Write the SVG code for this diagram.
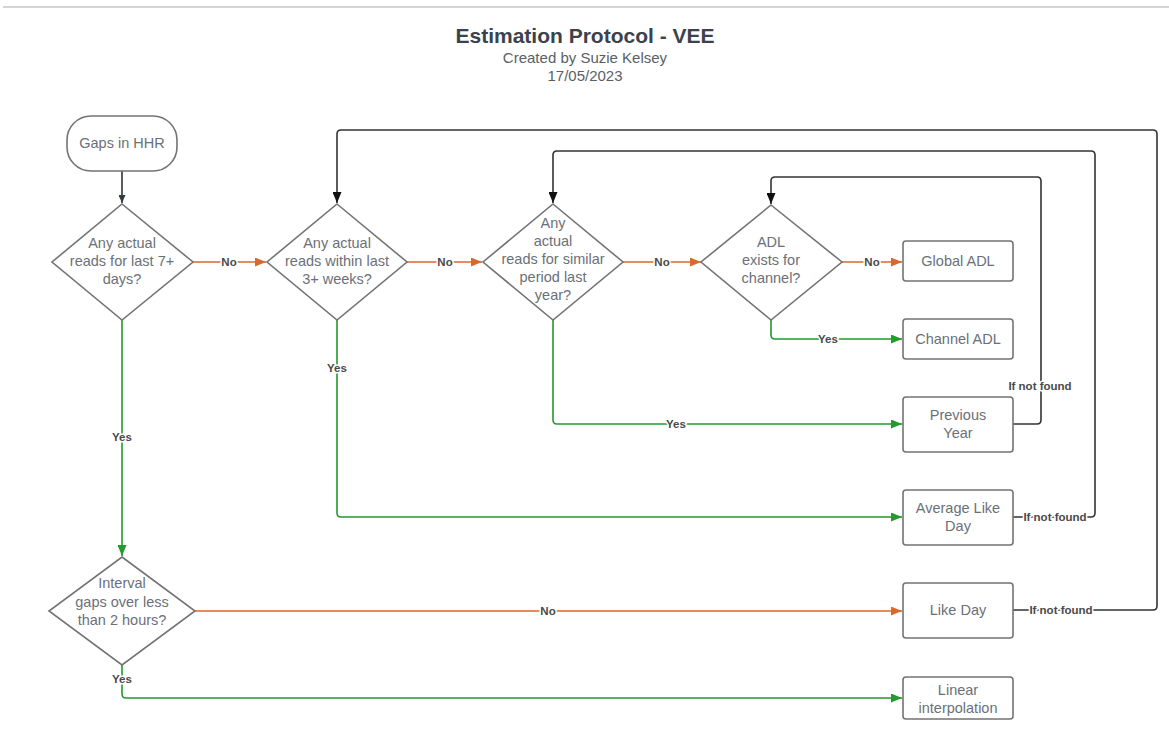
<svg xmlns="http://www.w3.org/2000/svg" width="1169" height="746" viewBox="0 0 1169 746">
<style>
.bg{fill:#ffffff}
.node{fill:#ffffff;stroke:#737373;stroke-width:1.6}
.nt{font-family:"Liberation Sans",Arial,sans-serif;font-size:14.5px;fill:#6b7078;text-anchor:middle}
.title{font-family:"Liberation Sans",Arial,sans-serif;font-size:21px;font-weight:bold;fill:#3c424b;text-anchor:middle}
.sub{font-family:"Liberation Sans",Arial,sans-serif;font-size:15px;fill:#5a5f66;text-anchor:middle}
.c{fill:none;stroke-width:1.6}
.or{stroke:#d8692e}
.gr{stroke:#229a2c}
.bk{stroke:#333333}
.lbl{font-family:"Liberation Sans",Arial,sans-serif;font-size:11.5px;font-weight:bold;fill:#4a4a4a;text-anchor:middle;paint-order:stroke;stroke:#ffffff;stroke-width:3px;stroke-linejoin:round}
</style>
<defs>
<marker id="aO" markerUnits="userSpaceOnUse" markerWidth="11" markerHeight="9" refX="11" refY="4.5" orient="auto"><path d="M0,0 L11,4.5 L0,9 z" fill="#d8692e"/></marker>
<marker id="aG" markerUnits="userSpaceOnUse" markerWidth="11" markerHeight="9" refX="11" refY="4.5" orient="auto"><path d="M0,0 L11,4.5 L0,9 z" fill="#229a2c"/></marker>
<marker id="aB" markerUnits="userSpaceOnUse" markerWidth="11" markerHeight="9" refX="11" refY="4.5" orient="auto"><path d="M0,0 L11,4.5 L0,9 z" fill="#111111"/></marker>
<marker id="aS" markerUnits="userSpaceOnUse" markerWidth="8" markerHeight="7" refX="8" refY="3.5" orient="auto"><path d="M0,0 L8,3.5 L0,7 z" fill="#333a44"/></marker>
</defs>
<rect class="bg" x="0" y="0" width="1169" height="746"/>
<line x1="3" y1="7" x2="1169" y2="7" stroke="#d4d4d4" stroke-width="2"/>

<g id="title">
<text class="title" x="585" y="43">Estimation Protocol - VEE</text>
<text class="sub" x="585" y="63">Created by Suzie Kelsey</text>
<text class="sub" x="585" y="81">17/05/2023</text>
</g>

<g id="connectors">
<path class="c bk" d="M122,171 L122,203" marker-end="url(#aS)"/>
<path class="c or" d="M193,262 L266,262" marker-end="url(#aO)"/>
<path class="c or" d="M407,262 L482,262" marker-end="url(#aO)"/>
<path class="c or" d="M623,262 L701,262" marker-end="url(#aO)"/>
<path class="c or" d="M842,262 L902,262" marker-end="url(#aO)"/>
<path class="c gr" d="M771,320 L771,335 Q771,339 775,339 L902,339" marker-end="url(#aG)"/>
<path class="c gr" d="M553,320 L553,420 Q553,424 557,424 L902,424" marker-end="url(#aG)"/>
<path class="c gr" d="M337,320 L337,513 Q337,517 341,517 L902,517" marker-end="url(#aG)"/>
<path class="c gr" d="M122,320 L122,556" marker-end="url(#aG)"/>
<path class="c or" d="M195,611 L902,611" marker-end="url(#aO)"/>
<path class="c gr" d="M122,665 L122,694 Q122,698 126,698 L902,698" marker-end="url(#aG)"/>
<path class="c bk" d="M1013,424 L1037,424 Q1041,424 1041,420 L1041,181 Q1041,177 1037,177 L775,177 Q771,177 771,181 L771,204" marker-end="url(#aB)"/>
<path class="c bk" d="M1013,517 L1091,517 Q1095,517 1095,513 L1095,155 Q1095,151 1091,151 L557,151 Q553,151 553,155 L553,203" marker-end="url(#aB)"/>
<path class="c bk" d="M1013,610 L1153,610 Q1157,610 1157,606 L1157,134 Q1157,130 1153,130 L341,130 Q337,130 337,134 L337,203" marker-end="url(#aB)"/>
<text class="lbl" x="229" y="266">No</text>
<text class="lbl" x="445" y="266">No</text>
<text class="lbl" x="662" y="266">No</text>
<text class="lbl" x="872" y="266">No</text>
<text class="lbl" x="548" y="615">No</text>
<text class="lbl" x="828" y="343">Yes</text>
<text class="lbl" x="676" y="428">Yes</text>
<text class="lbl" x="337" y="372">Yes</text>
<text class="lbl" x="122" y="441">Yes</text>
<text class="lbl" x="122" y="683">Yes</text>
<text class="lbl" x="1040" y="390">If not found</text>
<text class="lbl" x="1055" y="521">If not found</text>
<text class="lbl" x="1061" y="614">If not found</text>
</g>

<g id="gaps">
<rect class="node" x="67" y="116" width="110" height="55" rx="24"/>
<text class="nt" x="122" y="148">Gaps in HHR</text>
</g>
<g id="d1">
<polygon class="node" points="122,204 193,262 122,320 52,262"/>
<text class="nt" x="122" y="248">Any actual</text>
<text class="nt" x="122" y="266">reads for last 7+</text>
<text class="nt" x="122" y="284">days?</text>
</g>
<g id="d2">
<polygon class="node" points="337,204 407,262 337,320 267,262"/>
<text class="nt" x="337" y="248">Any actual</text>
<text class="nt" x="337" y="266">reads within last</text>
<text class="nt" x="337" y="284">3+ weeks?</text>
</g>
<g id="d3">
<polygon class="node" points="553,204 623,262 553,320 483,262"/>
<text class="nt" x="553" y="228">Any</text>
<text class="nt" x="553" y="246">actual</text>
<text class="nt" x="553" y="264">reads for similar</text>
<text class="nt" x="553" y="282">period last</text>
<text class="nt" x="553" y="300">year?</text>
</g>
<g id="d4">
<polygon class="node" points="771,205 842,262 771,320 701,262"/>
<text class="nt" x="771" y="247">ADL</text>
<text class="nt" x="771" y="265">exists for</text>
<text class="nt" x="771" y="283">channel?</text>
</g>
<g id="d5">
<polygon class="node" points="122,557 195,611 122,665 49,611"/>
<text class="nt" x="122" y="588">Interval</text>
<text class="nt" x="122" y="607">gaps over less</text>
<text class="nt" x="122" y="625">than 2 hours?</text>
</g>
<g id="global">
<rect class="node" x="903" y="241" width="110" height="40" rx="3"/>
<text class="nt" x="958" y="266">Global ADL</text>
</g>
<g id="channel">
<rect class="node" x="903" y="319" width="110" height="40" rx="3"/>
<text class="nt" x="958" y="344">Channel ADL</text>
</g>
<g id="prev">
<rect class="node" x="903" y="397" width="110" height="55" rx="3"/>
<text class="nt" x="958" y="420">Previous</text>
<text class="nt" x="958" y="438">Year</text>
</g>
<g id="avg">
<rect class="node" x="903" y="490" width="110" height="55" rx="3"/>
<text class="nt" x="958" y="513">Average Like</text>
<text class="nt" x="958" y="531">Day</text>
</g>
<g id="likeday">
<rect class="node" x="903" y="583" width="110" height="55" rx="3"/>
<text class="nt" x="958" y="615">Like Day</text>
</g>
<g id="linear">
<rect class="node" x="903" y="677" width="110" height="42" rx="3"/>
<text class="nt" x="958" y="695">Linear</text>
<text class="nt" x="958" y="713">interpolation</text>
</g>
</svg>
